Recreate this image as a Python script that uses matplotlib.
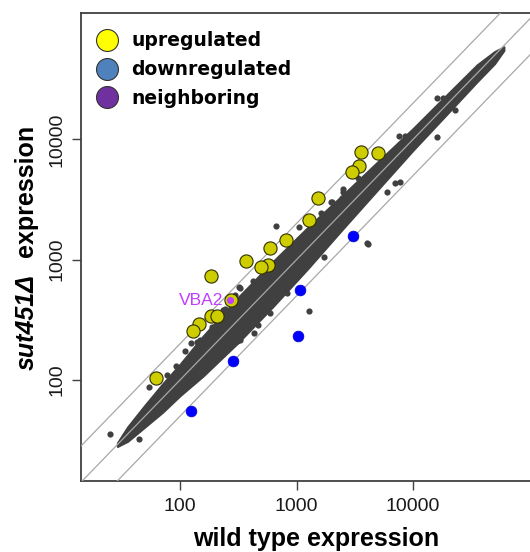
import matplotlib
matplotlib.use("Agg")
import matplotlib.pyplot as plt
from matplotlib.lines import Line2D

# ---------------- data ----------------
# dense core of all genes: wild type value, lower / upper edge of the sut451 cloud
band_wt = [29, 35.5, 50, 71, 100, 158, 316, 631, 1259, 2512, 5012, 10000, 19950, 35480, 50120, 60260]
band_lo = [28, 30.9, 40.7, 54, 74, 108, 205, 410, 850, 1820, 3850, 8128, 16600, 30200, 42660, 54950]
band_hi = [30, 40.7, 61.7, 93, 135, 232, 487, 970, 1870, 3470, 6550, 12300, 23990, 41690, 53700, 58880]

# scattered genes outside the dense core
other_wt = [667, 1991, 2495, 1614, 1045, 7727, 6026, 4083, 1722, 1274, 431, 310, 319, 426, 245,
            111, 125, 92.5, 8531, 3396, 2523, 2004, 2443, 1941, 4055, 17990, 15960, 22960,
            25.1, 44.8, 54.5, 77.8, 139, 7000, 15960, 7530,
            327, 296, 236, 187, 149, 470, 824, 593, 327]
other_sut = [1905, 3000, 3846, 2460, 1858, 4395, 3656, 1349, 1059, 375, 247, 211, 590, 668, 387,
             173, 202, 131, 10666, 4808, 3673, 3034, 3236, 2460, 1368, 22230, 10520, 17540,
             35.3, 32.1, 87.9, 110, 208, 4365, 22230, 10670,
             578, 509, 382, 277, 215, 286, 525, 358, 215]

up_wt = [3556, 5035, 3459, 2965, 1514, 1285, 813, 593, 369, 569, 493, 184, 272, 186, 209, 145, 130, 62.2]
up_sut = [7907, 7745, 6040, 5333, 3228, 2148, 1459, 1250, 970, 904, 865, 733, 465, 343, 343, 292, 254, 103.5]

down_wt = [3027, 1079, 1023, 287, 124]
down_sut = [1574, 557, 232, 145, 55.5]

neigh_name = ["VBA2"]
neigh_wt = [268]
neigh_sut = [465]

fold_lines = [0.5, 1, 2]
xticks = [100, 1000, 10000]
yticks = [100, 1000, 10000]
tick_labels = ["100", "1000", "10000"]
legend_labels = ["upregulated", "downregulated", "neighboring"]
legend_colors = ["#FFFF00", "#4F81BD", "#7030A0"]

# ---------------- figure ----------------
W, H = 530, 552
fig = plt.figure(figsize=(W / 100, H / 100), dpi=100)
ax = fig.add_axes([81 / W, (H - 481) / H, (552 - 81) / W, (481 - 13) / H])
ax.set_xscale("log")
ax.set_yscale("log")
ax.set_xlim(10 ** 1.150, 10 ** 5.193)
ax.set_ylim(10 ** 1.160, 10 ** 5.051)

ax.fill_between(band_wt, band_lo, band_hi, color="#404040", lw=1.5, edgecolor="#404040", zorder=2)
ax.scatter(other_wt, other_sut, s=20, color="#404040", lw=0, zorder=2)

xl = ax.get_xlim()
for f in fold_lines:
    ax.plot([xl[0], xl[1]], [xl[0] * f, xl[1] * f], color="#A8A8A8", lw=0.9, zorder=3)

ax.scatter(up_wt, up_sut, s=90, color="#CDCD00", edgecolor="#303000", lw=0.8, zorder=4)
ax.scatter(down_wt, down_sut, s=60, color="#0000FF", edgecolor="#0000CD", lw=0.5, zorder=4)
ax.scatter(neigh_wt, neigh_sut, s=26, color="#BF3EFF", lw=0, zorder=5)
for name, xv, yv in zip(neigh_name, neigh_wt, neigh_sut):
    ax.annotate(name, (xv, yv), xytext=(-4.8, -3.9), textcoords="offset points",
                ha="right", va="baseline", color="#BF3EFF", fontsize=12.6,
                family="Liberation Sans", zorder=5)

# axes styling
for side in ["left", "bottom", "top", "right"]:
    ax.spines[side].set_color("#404040")
    ax.spines[side].set_linewidth(1.3)
ax.set_xticks(xticks)
ax.set_xticklabels(tick_labels)
ax.set_yticks(yticks)
ax.set_yticklabels(tick_labels)
ax.minorticks_off()
ax.tick_params(axis="both", length=6.2, width=1.0, color="#404040", labelsize=14,
               labelcolor="#1a1a1a")
ax.tick_params(axis="x", pad=6)
ax.tick_params(axis="y", pad=5)
for lbl in ax.get_xticklabels() + ax.get_yticklabels():
    lbl.set_family("Liberation Sans")
for lbl in ax.get_yticklabels():
    lbl.set_rotation(90)
    lbl.set_va("center")

# axis titles
fig.text(316.5 / W, 1 - 546 / H, "wild type expression", ha="center", va="baseline",
         fontsize=18, fontweight="bold", family="Liberation Sans")
fig.text(33.5 / W, 1 - 370 / H, "sut451Δ", ha="left", va="baseline", rotation=90,
         rotation_mode="anchor", fontsize=18, fontweight="bold", fontstyle="italic",
         family="Liberation Sans")
fig.text(33.5 / W, 1 - 125 / H, "expression", ha="right", va="baseline", rotation=90,
         rotation_mode="anchor", fontsize=18, fontweight="bold", family="Liberation Sans")

# legend
handles = [Line2D([], [], marker="o", linestyle="", markersize=15.8, markerfacecolor=c,
                  markeredgecolor="#333333", markeredgewidth=0.8) for c in legend_colors]
ax.legend(handles, legend_labels, loc="upper left", frameon=False,
          prop={"family": "DejaVu Sans", "weight": "bold", "size": 13.5},
          handlelength=1.2, handletextpad=0.7, labelspacing=0.52,
          borderpad=0.0, borderaxespad=0.0,
          bbox_to_anchor=(95.8 / W, 1 - 31.5 / H), bbox_transform=fig.transFigure)

fig.savefig("out.png", dpi=100)
